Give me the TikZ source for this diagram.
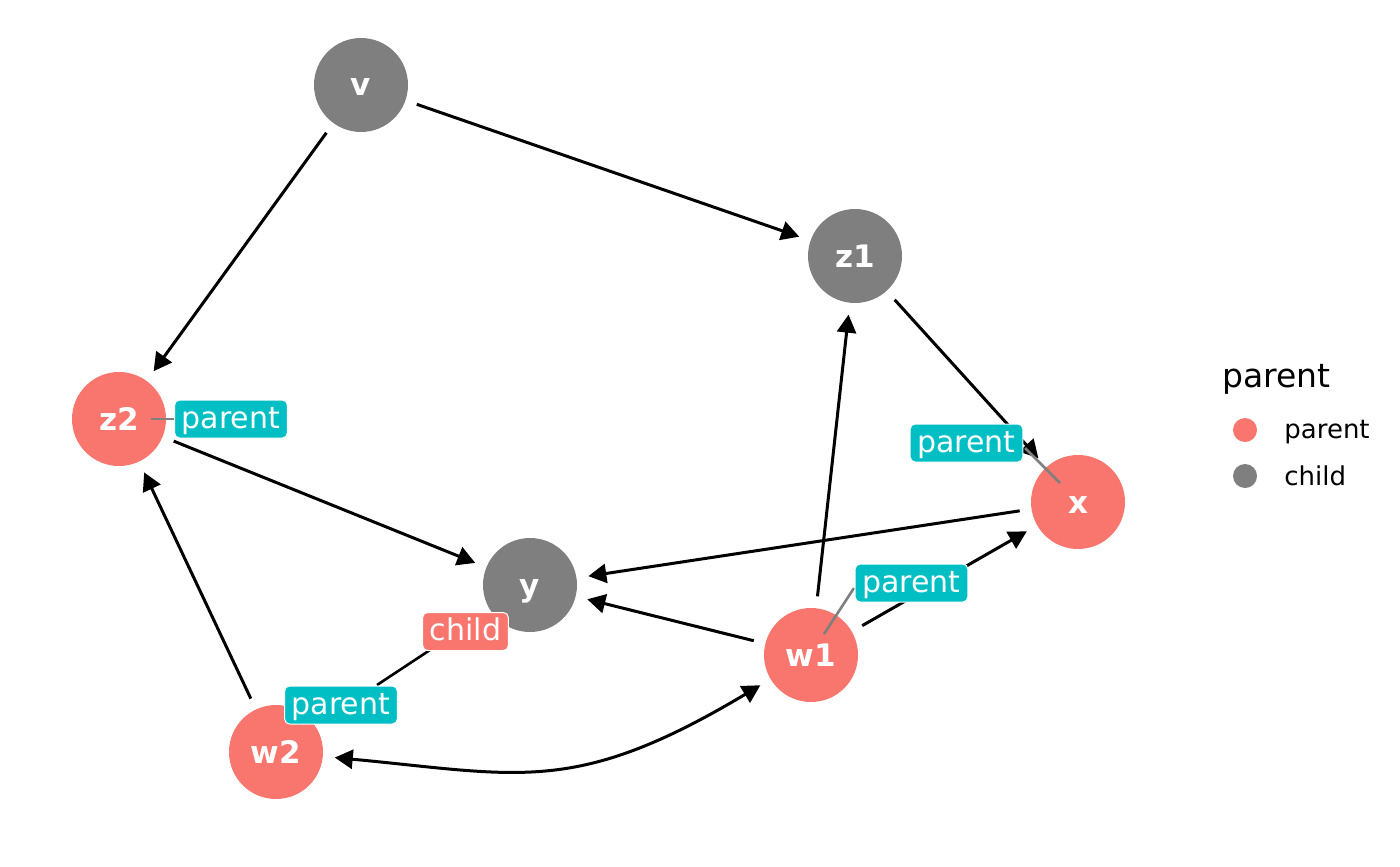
\documentclass[tikz,border=0pt]{standalone}
\usepackage{fontspec}
\setmainfont{DejaVu Sans}
\usetikzlibrary{arrows.meta}
\definecolor{salmon}{HTML}{F8766D}
\definecolor{greyc}{HTML}{7F7F7F}
\definecolor{cyanc}{HTML}{00BFC4}
\begin{document}
\begin{tikzpicture}[x=0.5pt,y=-0.5pt,
  vert/.style={circle,minimum size=47pt,inner sep=0pt,outer sep=6pt,text=white,
    font=\fontsize{15.5}{16}\selectfont\bfseries,text height=11pt,text depth=0pt},
  parv/.style={vert,fill=salmon},
  chiv/.style={vert,fill=greyc},
  edge/.style={line width=1.5pt,-{Triangle[length=9pt,width=9.5pt]}},
  lab/.style={rounded corners=2.5pt,draw=white,line width=0.5pt,text=white,
    font=\fontsize{15}{16}\selectfont,minimum height=19pt,inner xsep=3.6pt,
    inner ysep=0pt,text height=9.4pt,text depth=0pt},
  parlab/.style={lab,fill=cyanc},
  chilab/.style={lab,fill=salmon},
  seg/.style={line width=1.3pt,draw=greyc},
  legtext/.style={anchor=base west,inner sep=0pt,font=\fontsize{13}{14}\selectfont},
  legdot/.style={circle,minimum size=12pt,inner sep=0pt}
]
\useasboundingbox (0,0) rectangle (1400,866);

% vertices
\node[chiv] (v)  at (361,85)  {v};
\node[chiv] (z1) at (855,256) {z1};
\node[parv] (z2) at (119,419) {z2};
\node[chiv] (y)  at (530,585) {y};
\node[parv] (x)  at (1078,502) {x};
\node[parv] (w1) at (811,655) {w1};
\node[parv] (w2) at (276,752) {w2};

% edges
\draw[edge] (v) -- (z2);
\draw[edge] (v) -- (z1);
\draw[edge] (z1) -- (x);
\draw[edge] (z2) -- (y);
\draw[edge] (x) -- (y);
\draw[edge] (w1) -- (y);
\draw[edge] (w1) -- (z1);
\draw[edge] (w1) -- (x);
\draw[edge] (w2) -- (z2);
\draw[line width=1.5pt,{Triangle[length=9pt,width=9.5pt]}-{Triangle[length=9pt,width=9.5pt]}]
  (w1) .. controls (575,796) and (520,775) .. (w2);

% label segments
\coordinate (sz2a) at (151,419);
\coordinate (sz2b) at (175,419);
\coordinate (sxa) at (1060,483);
\coordinate (sxb) at (1025,448);
\coordinate (sw1a) at (824,634);
\coordinate (sw1b) at (854,588);
\coordinate (sya) at (377,685);
\coordinate (syb) at (430,650);
\draw[seg] (sz2a) -- (sz2b);
\draw[seg] (sxa) -- (sxb);
\draw[seg] (sw1a) -- (sw1b);
\draw[line width=1.3pt] (sya) -- (syb);

% labels
\node[parlab] (lz2) at (231,419) {parent};
\node[parlab] (lx)  at (966.5,443) {parent};
\node[parlab] (lw1) at (911.5,583) {parent};
\node[chilab] (ly)  at (465.5,631.5) {child};
\node[parlab] (lw2) at (341,705) {parent};

% legend
\node[anchor=base west,inner sep=0pt,font=\fontsize{16.5}{18}\selectfont] (legt) at (1222,387) {parent};
\node[legdot,fill=salmon] (ldp) at (1245,430) {};
\node[legdot,fill=greyc] (ldc) at (1245,476) {};
\node[legtext] (ltp) at (1284,438) {parent};
\node[legtext] (ltc) at (1284,485) {child};
\end{tikzpicture}
\end{document}
